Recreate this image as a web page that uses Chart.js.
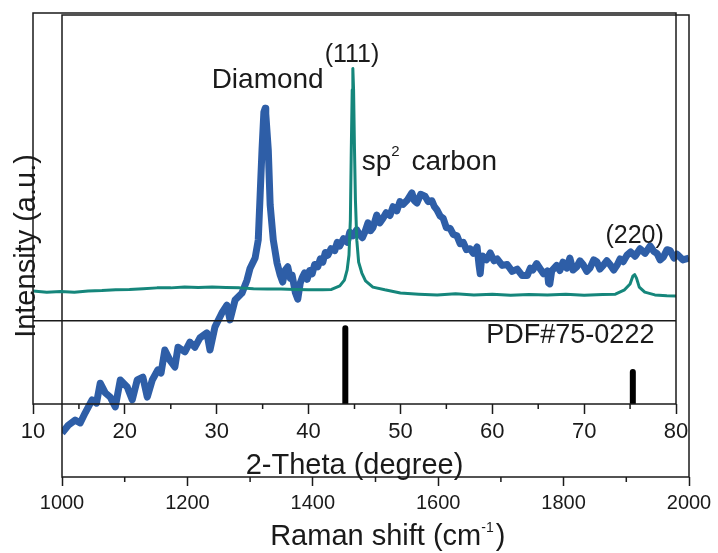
<!DOCTYPE html>
<html>
<head>
<meta charset="utf-8">
<title>Raman and XRD of diamond film</title>
<script src="https://cdn.jsdelivr.net/npm/chart.js@4.4.1/dist/chart.umd.min.js"></script>
<style>
  html, body { margin: 0; padding: 0; background: #fff; }
  #wrap { position: relative; width: 718px; height: 553px; }
  #wrap canvas { position: absolute; left: 0; top: 0; }
</style>
</head>
<body>
<div id="wrap">
  <canvas id="ramanChart" width="718" height="553"></canvas>
  <canvas id="xrdChart" width="718" height="553"></canvas>
</div>
<script>
// Raman spectrum: shift in cm-1, intensity in a.u.
const ramanShift = [
  1000, 1010, 1021, 1029, 1037, 1048, 1055, 1061, 1069, 1077,
  1085, 1093, 1104, 1112, 1120, 1129, 1136, 1144, 1153, 1158,
  1164, 1172, 1180, 1185, 1196, 1204, 1212, 1220, 1231, 1236,
  1244, 1255, 1263, 1268, 1276, 1287, 1295, 1300, 1308, 1313,
  1316, 1319, 1322, 1324, 1325, 1329, 1332, 1337, 1343, 1348,
  1352, 1356, 1360, 1364, 1367, 1372, 1376, 1380, 1383, 1387,
  1391, 1395, 1399, 1403, 1408, 1412, 1416, 1420, 1424, 1429,
  1435, 1439, 1443, 1449, 1455, 1459, 1464, 1470, 1475, 1479,
  1483, 1488, 1492, 1496, 1502, 1507, 1512, 1517, 1523, 1528,
  1534, 1539, 1544, 1551, 1558, 1562, 1566, 1572, 1579, 1584,
  1590, 1594, 1598, 1603, 1608, 1613, 1619, 1624, 1630, 1635,
  1640, 1645, 1651, 1656, 1662, 1665, 1667, 1669, 1671, 1677,
  1683, 1689, 1694, 1702, 1710, 1718, 1726, 1734, 1742, 1747,
  1751, 1757, 1762, 1768, 1774, 1776, 1778, 1781, 1789, 1794,
  1799, 1805, 1810, 1815, 1821, 1826, 1831, 1837, 1842, 1848,
  1853, 1858, 1863, 1869, 1874, 1880, 1885, 1890, 1895, 1901,
  1907, 1914, 1922, 1930, 1938, 1944, 1949, 1954, 1959, 1965,
  1970, 1976, 1981, 1990, 2000
];
const ramanIntensity = [
   95, 112, 123, 117, 139, 167, 160, 203, 182, 173,
  152, 210, 195, 167, 210, 216, 173, 210, 232, 225,
  275, 253, 238, 281, 271, 292, 281, 301, 312, 275,
  325, 355, 372, 340, 383, 398, 426, 452, 474, 513,
  610, 708, 790, 798, 786, 708, 589, 513, 463, 437,
  422, 448, 455, 430, 437, 400, 385, 420, 431, 442,
  428, 447, 440, 460, 455, 472, 465, 486, 480, 494,
  490, 508, 500, 516, 508, 530, 522, 535, 524, 518,
  530, 550, 533, 540, 567, 550, 560, 572, 566, 585,
  576, 596, 590, 600, 615, 598, 593, 612, 608, 596,
  598, 585, 578, 565, 560, 540, 538, 525, 522, 505,
  508, 492, 494, 484, 498, 460, 440, 470, 478, 470,
  485, 468, 472, 458, 460, 445, 450, 436, 436, 452,
  448, 462, 452, 440, 446, 420, 418, 446, 458, 447,
  465, 452, 474, 448, 455, 468, 460, 445, 452, 470,
  466, 450, 458, 468, 460, 448, 458, 472, 466, 480,
  487, 478, 494, 484, 500, 488, 484, 470, 476, 492,
  490, 474, 482, 470, 474
];

// XRD pattern: 2-theta in degrees, intensity in a.u.
const twoTheta = [
  10, 11.5, 13, 14.5, 16, 17.5, 19, 20.5, 22, 23.5, 25, 26.5, 28, 29.5, 31,
  32.5, 34, 35.5, 37, 38.5, 40, 41.5, 42.5, 43.4, 43.9, 44.2, 44.4, 44.55, 44.65, 44.75,
  44.82, 44.9, 45.0, 45.1, 45.25, 45.45, 45.8, 46.2, 47.0, 48.3, 50, 52, 54, 56, 58,
  60, 62, 64, 66, 68, 70, 72, 73.4, 74.4, 75.0, 75.3, 75.5, 75.7, 76.0, 76.6,
  77.7, 79, 80
];
const xrdIntensity = [
  289, 286, 288, 286, 289, 290, 292, 293, 295, 297, 297, 299, 298, 299, 298,
  297, 295, 294, 294, 293, 292, 292, 293, 302, 317, 343, 381, 471, 650, 803,
  858, 803, 650, 522, 419, 363, 335, 315, 299, 292, 284, 281, 279, 282, 279,
  281, 278, 280, 279, 281, 278, 280, 281, 292, 307, 327, 331, 322, 299, 286,
  279, 277, 276
];

// PDF#75-0222 reference lines (diamond (111) and (220))
const pdfTheta = [44.0, 75.3];
const pdfIntensity = [194, 82];
const pdfPanelTop = 213; // divider between the measured pattern and the card lines

const ramanTicks = [1000, 1200, 1400, 1600, 1800, 2000];
const ramanMinorTicks = [1100, 1300, 1500, 1700, 1900];
const thetaTicks = [10, 20, 30, 40, 50, 60, 70, 80];
const thetaMinorTicks = [15, 25, 35, 45, 55, 65, 75];

const FONT = '"Liberation Sans", Arial, sans-serif';
const INK = '#1a1a1a';

// frame box, minor ticks and free text labels
const framePlugin = {
  id: 'frame',
  afterDraw(chart, args, opts) {
    const { ctx, chartArea: a } = chart;
    const xs = chart.scales.x, ys = chart.scales.y;
    ctx.save();
    ctx.strokeStyle = INK;
    ctx.lineWidth = 1.5;
    ctx.strokeRect(a.left, a.top, a.right - a.left, a.bottom - a.top);

    ctx.beginPath();
    (opts.minor || []).forEach(v => {
      const px = xs.getPixelForValue(v);
      ctx.moveTo(px, a.bottom);
      ctx.lineTo(px, a.bottom + opts.minorLength);
    });
    ctx.stroke();

    ctx.fillStyle = INK;
    ctx.textBaseline = 'alphabetic';
    ctx.textAlign = 'left';
    (opts.labels || []).forEach(lbl => {
      let width = 0;
      lbl.runs.forEach(r => {
        ctx.font = r.size + 'px ' + FONT;
        width += ctx.measureText(r.text).width + (r.gap || 0);
      });
      let x = xs.getPixelForValue(lbl.x);
      if (lbl.align === 'center') x -= width / 2;
      if (lbl.align === 'right') x -= width;
      const y = lbl.below !== undefined ? a.bottom + lbl.below : ys.getPixelForValue(lbl.y);
      lbl.runs.forEach(r => {
        ctx.font = r.size + 'px ' + FONT;
        ctx.fillText(r.text, x, y - (r.rise || 0));
        x += ctx.measureText(r.text).width + (r.gap || 0);
      });
    });
    ctx.restore();
  }
};

// Raman spectrum on the outer axes
new Chart(document.getElementById('ramanChart'), {
  type: 'line',
  data: {
    datasets: [{
      data: ramanShift.map((x, i) => ({ x: x, y: ramanIntensity[i] })),
      borderColor: '#2e5ea7',
      borderWidth: 7,
      borderJoinStyle: 'round',
      pointRadius: 0,
      tension: 0
    }]
  },
  options: {
    responsive: false,
    animation: false,
    devicePixelRatio: 1,
    layout: { padding: { left: 0, top: 15, right: 29, bottom: 0 } },
    plugins: {
      legend: { display: false },
      tooltip: { enabled: false },
      frame: {
        minor: ramanMinorTicks,
        minorLength: 5,
        labels: [
          { runs: [{ text: 'Diamond', size: 28 }], x: 1328, y: 842, align: 'center' },
          { runs: [{ text: 'sp', size: 28 }, { text: '2', size: 15, rise: 14, gap: 4 }, { text: ' carbon', size: 28 }],
            x: 1478, y: 664, align: 'left' },
          { runs: [{ text: 'Raman shift (cm', size: 29 }, { text: '-1', size: 14, rise: 13, gap: 2 }, { text: ')', size: 29 }],
            x: 1332, below: 68, align: 'left' }
        ]
      }
    },
    scales: {
      x: {
        type: 'linear',
        min: 1000,
        max: 2000,
        afterBuildTicks: s => { s.ticks = ramanTicks.map(v => ({ value: v })); },
        afterFit: s => { s.height = 76; },
        grid: { drawOnChartArea: false, drawTicks: true, tickLength: 9, tickWidth: 1.5, tickColor: INK },
        border: { display: false },
        ticks: {
          font: { family: FONT, size: 20 },
          color: INK,
          padding: 5,
          maxRotation: 0,
          autoSkip: false,
          callback: v => String(v)
        }
      },
      y: {
        type: 'linear',
        min: 0,
        max: 1000,
        afterFit: s => { s.width = 62; },
        grid: { display: false },
        border: { display: false },
        ticks: { display: false },
        title: {
          display: true,
          text: 'Intensity (a.u.)',
          font: { family: FONT, size: 29 },
          color: INK,
          padding: { top: 10, bottom: 0 }
        }
      }
    }
  },
  plugins: [framePlugin]
});

// XRD pattern and PDF card on the inner axes
const pdfLines = [];
pdfTheta.forEach((t, i) => {
  pdfLines.push({ x: t, y: 0 }, { x: t, y: pdfIntensity[i] }, { x: t, y: null });
});

new Chart(document.getElementById('xrdChart'), {
  type: 'line',
  data: {
    datasets: [
      {
        data: twoTheta.map((x, i) => ({ x: x, y: xrdIntensity[i] })),
        borderColor: '#15867b',
        borderWidth: 3,
        borderJoinStyle: 'round',
        pointRadius: 0,
        tension: 0
      },
      {
        data: pdfLines,
        borderColor: '#000',
        borderWidth: 6,
        borderCapStyle: 'round',
        pointRadius: 0,
        spanGaps: false
      },
      {
        data: [{ x: 10, y: pdfPanelTop }, { x: 80, y: pdfPanelTop }],
        borderColor: INK,
        borderWidth: 1.5,
        pointRadius: 0
      }
    ]
  },
  options: {
    responsive: false,
    animation: false,
    devicePixelRatio: 1,
    layout: { padding: { left: 33, top: 13, right: 42, bottom: 0 } },
    plugins: {
      legend: { display: false },
      tooltip: { enabled: false },
      frame: {
        minor: thetaMinorTicks,
        minorLength: 5,
        labels: [
          { runs: [{ text: '(111)', size: 25 }], x: 44.73, y: 875, align: 'center' },
          { runs: [{ text: '(220)', size: 25 }], x: 75.5, y: 412, align: 'center' },
          { runs: [{ text: 'PDF#75-0222', size: 27 }], x: 68.5, y: 156, align: 'center' }
        ]
      }
    },
    scales: {
      x: {
        type: 'linear',
        min: 10,
        max: 80,
        afterBuildTicks: s => { s.ticks = thetaTicks.map(v => ({ value: v })); },
        afterFit: s => { s.height = 149; },
        grid: { drawOnChartArea: false, drawTicks: true, tickLength: 10, tickWidth: 1.5, tickColor: INK },
        border: { display: false },
        ticks: {
          font: { family: FONT, size: 22 },
          color: INK,
          padding: 5,
          maxRotation: 0,
          autoSkip: false,
          callback: v => String(v)
        },
        title: {
          display: true,
          text: '2-Theta (degree)',
          font: { family: FONT, size: 29 },
          color: INK,
          padding: { top: 0, bottom: 70 }
        }
      },
      y: { type: 'linear', display: false, min: 0, max: 1000 }
    }
  },
  plugins: [framePlugin]
});
</script>
</body>
</html>
